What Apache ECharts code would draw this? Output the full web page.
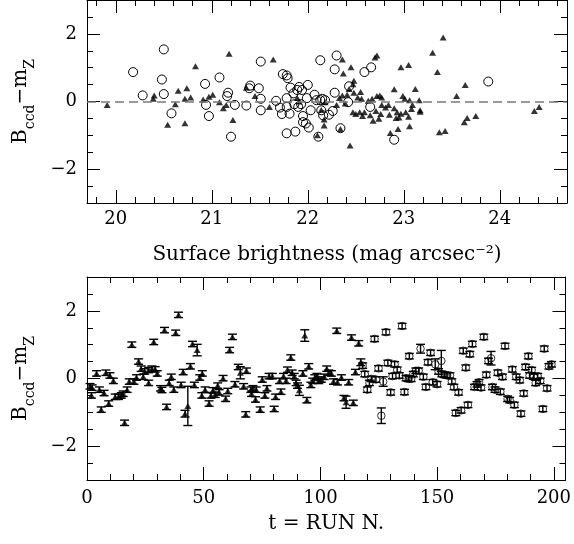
<!DOCTYPE html>
<html><head><meta charset="utf-8">
<script src="https://cdn.jsdelivr.net/npm/echarts@6/dist/echarts.min.js"></script>
<style>html,body{margin:0;padding:0;background:#fff}#c{width:574px;height:544px}</style>
</head><body><div id="c"></div>
<script>
// ---- Data ----
const topTriangles = [
[19.91,-0.1],[20.39,0.08],[20.40,0.18],[20.54,-0.69],[20.62,-0.08],[20.65,0.32],[20.72,-0.64],[20.74,0.39],[20.72,0.08],[20.78,0.12],[20.83,1.04],[20.91,0.06],[20.97,0.14],[21.01,0.2],[21.08,-0.02],[21.12,-0.2],[21.15,-0.1],[21.18,1.41],[21.22,-0.55],[21.36,0.41],
[21.64,1.24],[21.45,0.16],[21.6,-0.16],[22.36,1.24],[22.45,1.01],[22.37,0.83],[22.7,1.3],[22.72,1.36],[22.97,1.01],[22.48,0.61],[22.47,0.51],[22.43,0.37],[22.9,0.36],[22.99,0.16],[22.36,0.18],[22.41,0.2],[22.48,0.26],[22.55,0.28],[22.52,0.12],[22.56,0.08],[22.63,0.02],[22.67,0.08],[22.72,0.16],[22.75,0.18],[22.77,0.12],[22.33,0.1],[22.3,-0.1],[22.39,-0.06],[22.47,-0.32],[22.5,-0.37],[22.54,-0.32],[22.57,-0.43],[22.59,-0.32],[22.65,-0.41],[22.68,-0.57],[22.71,-0.28],[22.74,-0.51],[22.76,-0.37],[22.77,-0.1],[22.81,-0.18],[22.85,-0.39],[22.84,-0.1],[22.9,-0.2],[22.93,-0.32],[22.95,-0.47],[22.92,-0.49],[22.97,-0.36],[22.94,-0.81],[22.86,-0.93],[22.44,-1.3],[22.17,-0.71],[22.17,-0.53],[22.14,-0.25],[22.1,-1.0],[22.34,-0.81],[22.18,-0.02],[21.89,0.1],[21.91,0],
[23.41,1.89],[23.3,1.44],[23.05,1.08],[23.35,0.87],[23.12,0.37],[23.64,0.49],[23.55,0.16],[23.01,0.08],[23.06,0.04],[23.16,0.04],[23.09,-0.1],[23.08,-0.22],[23.17,-0.26],[23.17,-0.3],[23.02,-0.32],[23.05,-0.45],[23.06,-0.73],[23.37,-0.91],[23.43,-0.87],[23.63,-0.61],[23.66,-0.49],[23.75,-0.43],[24.36,-0.28],[24.41,-0.16]
];
const topCircles = [
[20.18,0.87],[20.28,0.18],[20.5,1.54],[20.48,0.65],[20.5,0.22],[20.58,-0.35],[20.93,0.52],[20.94,-0.1],[20.97,-0.43],[21.08,0.71],[21.17,0.26],[21.16,0.16],[21.2,-1.04],[21.24,-0.1],[21.36,-0.12],
[21.51,1.18],[21.39,0.39],[21.4,0.47],[21.49,0.39],[21.51,0.08],[21.51,-0.26],[21.67,0.02],[21.71,-0.18],[21.73,-0.37],[21.81,-0.36],[21.78,-0.16],[21.74,0.81],[21.78,0.77],[21.79,0.69],[21.78,0.1],[21.82,0.41],[21.85,0.24],[21.89,0.34],[21.91,0.43],[21.94,0.34],[22.0,0.49],[21.86,-0.08],[21.9,-0.16],[21.93,-0.08],[21.99,0.1],[22.03,-0.26],[21.95,-0.43],[21.95,-0.61],[21.98,-0.65],[22.01,-0.77],[21.78,-0.94],[21.87,-0.89],[22.07,0.2],[22.09,0.04],[22.13,0.04],[22.15,0.08],[22.18,0.04],[22.14,-0.26],[22.16,-0.41],[22.22,-0.39],[22.26,-0.28],[22.28,0.26],[22.13,1.22],[22.3,1.36],[22.28,0.95],[22.34,-0.79],[22.11,-1.04],[22.43,0.45],[22.42,-0.02],[22.59,0.87],[22.66,1.01],[22.65,-0.16],[22.9,-1.13],
[23.88,0.59]
];
// [run, residual, error]
const botTriangles = [
[1.3,-0.23,0.08],[2.2,-0.27,0.08],[1.9,-0.5,0.08],[4.1,0.15,0.08],[5.3,-0.33,0.08],[6.1,-0.92,0.08],[7.3,-0.43,0.08],[8.1,0.17,0.08],[9.8,0.09,0.08],[9.3,-0.74,0.08],[11.3,-0.07,0.08],[12.1,-0.54,0.08],[13.5,-0.54,0.08],[14.7,-0.5,0.08],[15.5,-0.45,0.08],[16.1,-1.31,0.08],[17.2,-0.33,0.08],[18.1,-0.09,0.08],[19.2,1.0,0.08],[20.1,-0.09,0.08],[21.2,0.03,0.08],[22.1,0.5,0.08],[23.2,0.29,0.08],[24.1,0.05,0.08],[24.7,0.21,0.08],[26.4,-0.13,0.08],[26.4,0.25,0.08],[27.8,0.29,0.08],[28.6,1.08,0.08],[29.2,0.27,0.08],[30.1,0.15,0.08],[31.5,-0.29,0.08],[32.1,-0.34,0.08],[33.2,1.43,0.08],[34.1,-0.84,0.08],[35.2,-0.13,0.08],[36.1,0.05,0.08],[37.2,-0.33,0.08],[38.0,1.35,0.08],[39.2,1.88,0.08],[40.3,-0.19,0.08],[41.2,0.19,0.08],[42.0,-1.04,0.1],[43.2,-0.81,0.58],[44.3,0.36,0.08],[45.2,1.02,0.08],[47.2,0.84,0.17],[46.0,-0.19,0.08],[48.3,0.03,0.08],[49.4,0.15,0.08],[49.2,-0.5,0.08],[50.6,-0.33,0.08],[52.3,-0.74,0.08],[53.1,-0.5,0.08],[54.0,-0.35,0.08],[54.9,-0.48,0.08],[56.0,-0.21,0.08],[56.6,-0.41,0.08],[58.3,0.01,0.08],[59.4,-0.6,0.08],[60.3,-0.37,0.08],[61.1,0.84,0.08],[62.3,1.23,0.08],[63.4,-0.17,0.08],[64.8,0.34,0.08],[65.7,0.17,0.18],[67.1,-0.23,0.08],[68.0,-1.06,0.08],
[68.3,0.23,0.08],[70.2,-0.33,0.08],[70.5,-0.45,0.08],[71.1,-0.29,0.08],[72.5,-0.33,0.08],[72.2,-0.62,0.08],[74.2,-0.92,0.08],[75.1,-0.03,0.08],[76.2,-0.5,0.08],[77.1,-0.29,0.08],[78.0,0.07,0.08],[79.4,0.07,0.08],[80.2,-0.9,0.08],[80.8,-0.54,0.08],[82.5,-0.07,0.08],[83.1,-0.39,0.08],[84.2,0.07,0.08],[85.3,-0.07,0.08],[85.9,0.26,0.08],[87.3,0.62,0.08],[87.9,0.17,0.08],[88.8,0.07,0.08],[89.6,-0.13,0.08],[90.2,-0.21,0.08],[91.0,-0.35,0.15],[92.5,0.15,0.08],[93.3,1.27,0.17],[94.2,-0.64,0.08],[95.0,0.36,0.08],[95.9,-0.19,0.08],[96.7,-0.07,0.08],[97.6,0.03,0.08],[98.5,0.07,0.08],[99.3,-0.07,0.08],[100.4,-0.03,0.08],[101.6,0.05,0.08],[102.7,0.29,0.08],[103.6,0.17,0.08],[104.7,0.15,0.08],[105.6,-0.09,0.08],[107.0,1.41,0.08],[107.3,-0.11,0.08],[109.0,0.03,0.08],[110.1,-0.58,0.08],[111.0,-0.7,0.18],[112.1,-0.11,0.08],[113.3,1.21,0.08],[114.1,-0.72,0.08],[115.0,0.19,0.08],[116.4,1.04,0.08],[117.3,0.48,0.1]
];
const botCircles = [
[118.1,0.38,0.08],[119.0,0.13,0.08],[120.1,-0.33,0.08],[121.0,-0.13,0.08],[121.8,-0.01,0.08],[123.2,1.17,0.08],[123.8,-0.03,0.08],[124.9,0.3,0.08],[126.1,-1.1,0.23],[126.9,-0.09,0.14],[128.1,1.37,0.08],[128.9,0.46,0.08],[130.1,-0.41,0.08],[130.9,0.07,0.08],[131.8,0.42,0.08],[132.9,0.26,0.08],[133.8,0.09,0.08],[135.0,1.55,0.08],[136.0,-0.4,0.08],[136.7,0.01,0.08],[138.1,0.66,0.08],[137.8,-0.01,0.08],[138.9,-0.01,0.08],[139.8,0.13,0.08],[140.9,0.23,0.08],[142.1,0.23,0.08],[142.9,0.88,0.13],[144.1,0.05,0.08],[145.2,-0.25,0.08],[146.1,0.48,0.08],[147.2,0.76,0.08],[148.1,-0.11,0.08],[149.2,0.42,0.16],[150.0,-0.17,0.08],[150.6,0.21,0.08],[151.8,0.52,0.31],[152.0,0.13,0.08],[153.2,0.11,0.08],[154.3,0.09,0.08],[155.5,0.09,0.08],[156.3,-0.09,0.08],[157.2,-0.25,0.08],[158.0,-1.02,0.08],[159.2,-0.41,0.08],[160.3,-0.94,0.08],[161.2,0.82,0.08],[162.3,0.32,0.08],[163.2,-0.78,0.08],[164.0,0.72,0.08],[165.1,1.02,0.08],[166.0,-0.25,0.08],[167.1,-0.17,0.08],[168.0,-0.11,0.08],[168.8,-0.27,0.08],[170.0,1.23,0.08],[171.1,0.11,0.08],[172.0,0.52,0.08],[173.1,0.6,0.2],[173.7,-0.25,0.08],[174.8,-0.33,0.08],[176.0,0.17,0.08],[177.1,-0.39,0.08],[178.0,0.05,0.08],[179.1,0.96,0.08],[180.2,-0.6,0.08],[181.1,-0.64,0.08],[182.2,0.27,0.08],[183.1,-0.78,0.08],[183.9,0.05,0.08],[185.4,-0.05,0.08],[185.9,-1.04,0.08],[187.1,-0.44,0.08],[187.9,0.34,0.08],[189.1,0.66,0.08],[189.6,0.09,0.08],[190.5,0.25,0.08],[191.4,0.05,0.08],[192.2,-0.13,0.08],[193.1,0.07,0.08],[194.2,-0.07,0.08],[195.3,-0.9,0.08],[195.9,0.88,0.08],[197.1,-0.29,0.08],[197.9,0.36,0.08],[199.0,0.42,0.08]
];
// tick values
const topXMajor = [20,21,22,23,24];
const topXMinor = [19.8,20,20.2,20.4,20.6,20.8,21,21.2,21.4,21.6,21.8,22,22.2,22.4,22.6,22.8,23,23.2,23.4,23.6,23.8,24,24.2,24.4,24.6];
const botXMajor = [0,50,100,150,200];
const botXMinor = [0,10,20,30,40,50,60,70,80,90,100,110,120,130,140,150,160,170,180,190,200];
const yMajor = [-2,0,2];
const yMinor = [-2.5,-2,-1.5,-1,-0.5,0,0.5,1,1.5,2,2.5];

// ---- Chart ----
const FONT = 'DejaVu Serif';
const chart = echarts.init(document.getElementById('c'), null, {renderer:'canvas'});
const fmt = v => (v < 0 ? '\u2212' + Math.abs(v) : String(v));

function axes(g, kind, min, max, minors, majors, name, nameGap, nameStyle, labelMargin) {
  const pos = kind === 'x' ? ['bottom','top'] : ['left','right'];
  const base = {gridIndex:g, type:'value', min, max, splitLine:{show:false}};
  const out = [];
  pos.forEach((p, i) => {
    out.push(Object.assign({}, base, {position:p,
      axisLine:{show:true, onZero:false, lineStyle:{color:'#000', width:1}},
      axisTick:{show:true, inside:true, length:6, customValues:minors, lineStyle:{color:'#000', width:1}},
      axisLabel:{show:false}}));
    const maj = Object.assign({}, base, {position:p,
      axisLine:{show:false, onZero:false},
      axisTick:{show:true, inside:true, length:13, customValues:majors, lineStyle:{color:'#000', width:1}},
      axisLabel: i === 0 ? {show:true, customValues:majors, formatter:fmt, color:'#000', fontFamily:FONT, fontSize:18, margin:labelMargin} : {show:false}});
    if (i === 0) {
      maj.name = name; maj.nameLocation = 'middle'; maj.nameGap = nameGap; maj.nameTextStyle = nameStyle;
    }
    out.push(maj);
  });
  return out;
}

const yNameStyle = {color:'#000', fontFamily:FONT, fontSize:20,
  rich:{ b:{fontFamily:FONT, fontSize:20, color:'#000', verticalAlign:'top', padding:[0,0,6,0]},
         s:{fontFamily:FONT, fontSize:14, color:'#000', verticalAlign:'bottom'} }};
const yName = '{b|B}{s|ccd}{b|\u2212m}{s|Z}';
const xNameStyle = {color:'#000', fontFamily:FONT, fontSize:20};

const xAxes = [].concat(
  axes(0,'x',19.7,24.7,topXMinor,topXMajor,'Surface brightness (mag arcsec\u207B\u00B2)',42,xNameStyle,7),
  axes(1,'x',0,205,botXMinor,botXMajor,'t = RUN N.',34,xNameStyle,9)
);
const yAxes = [].concat(
  axes(0,'y',-3,3,yMinor,yMajor,yName,50,yNameStyle,10),
  axes(1,'y',-3,3,yMinor,yMajor,yName,50,yNameStyle,10)
);

function errRender(params, api) {
  const x = api.value(0), y = api.value(1), e = api.value(2);
  const t = api.coord([x, y + e]), b = api.coord([x, y - e]);
  const w = 4.5;
  const st = {stroke:'#000', lineWidth:1.4};
  return {type:'group', children:[
    {type:'line', shape:{x1:t[0], y1:t[1], x2:b[0], y2:b[1]}, style:st},
    {type:'line', shape:{x1:t[0]-w, y1:t[1], x2:t[0]+w, y2:t[1]}, style:st},
    {type:'line', shape:{x1:b[0]-w, y1:b[1], x2:b[0]+w, y2:b[1]}, style:st}
  ]};
}

chart.setOption({
  animation:false,
  backgroundColor:'#fff',
  grid:[
    {left:87, right:7, top:0, height:203, containLabel:false},
    {left:87, right:7, top:277, height:203, containLabel:false}
  ],
  xAxis:xAxes,
  yAxis:yAxes,
  series:[
    {type:'line', xAxisIndex:0, yAxisIndex:0, data:[], silent:true, z:1,
      markLine:{silent:true, symbol:'none', label:{show:false},
        lineStyle:{type:[9,5], color:'#7a7a7a', width:1.6}, data:[{yAxis:0}]}},
    {type:'scatter', xAxisIndex:0, yAxisIndex:0, symbol:'circle', symbolSize:9, z:3,
      itemStyle:{color:'transparent', borderColor:'#000', borderWidth:1, opacity:1},
      data:topCircles},
    {type:'scatter', xAxisIndex:0, yAxisIndex:0, symbol:'triangle', symbolSize:[7,6], z:4,
      itemStyle:{color:'#000'}, data:topTriangles},
    {type:'custom', xAxisIndex:4, yAxisIndex:4, renderItem:errRender, z:2,
      encode:{x:0, y:1}, data:botTriangles},
    {type:'custom', xAxisIndex:4, yAxisIndex:4, renderItem:errRender, z:2,
      encode:{x:0, y:1}, data:botCircles},
    {type:'scatter', xAxisIndex:4, yAxisIndex:4, symbol:'triangle', symbolSize:[7,6], z:4,
      itemStyle:{color:'#000'}, data:botTriangles.map(d => [d[0], d[1]])},
    {type:'scatter', xAxisIndex:4, yAxisIndex:4, symbol:'circle', symbolSize:7.5, z:3,
      itemStyle:{color:'transparent', borderColor:'#000', borderWidth:1},
      data:botCircles.map(d => [d[0], d[1]])}
  ]
});
</script>
</body></html>
